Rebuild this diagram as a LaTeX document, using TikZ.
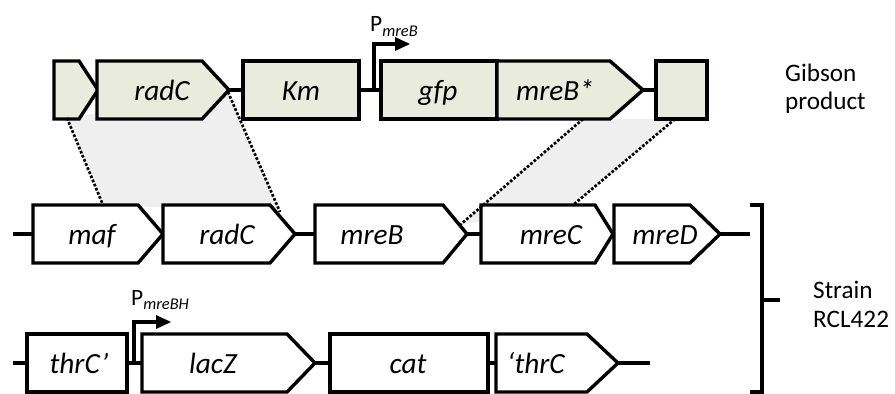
\documentclass[tikz,border=0pt]{standalone}
\usepackage{fontspec}
\setmainfont{Carlito}
\definecolor{gibsonfill}{RGB}{233,235,220}
\definecolor{overlap}{RGB}{239,239,239}
% name, fill, left x, body end x, tip x, mid y, label x, label
\newcommand{\gene}[8]{%
	\draw [gene, fill=#2] (#3,#6+29) -- (#4,#6+29) -- (#5,#6) -- (#4,#6-29) -- (#3,#6-29) -- cycle;
	\coordinate (#1-l) at (#3,#6);
	\coordinate (#1-r) at (#5,#6);
	\node [glabel] (#1) at (#7,#6-10) {#8};}
\begin{document}
\begin{tikzpicture}[x=0.03cm,y=0.03cm]
		\tikzstyle{every node}+=[inner sep=0pt]
		\tikzstyle{gene}=[black, line width=2.9pt, line join=miter]
		\tikzstyle{glabel}=[anchor=base, font=\fontsize{25}{30}\selectfont\itshape]
		\tikzstyle{side}=[anchor=base west, font=\fontsize{21.5}{26}\selectfont]
		\tikzstyle{prom}=[anchor=base west, font=\fontsize{20}{24}\selectfont]
		\tikzstyle{dna}=[black, line width=2.9pt]
		\tikzstyle{homol}=[black, line width=2.3pt, dash pattern=on 2.3pt off 1.5pt]
		\useasboundingbox (0,0) rectangle (895,-394);
		% regions of homology
		\coordinate (h1a) at (67,-118);
		\coordinate (h1b) at (228,-92);
		\coordinate (h1c) at (280,-212);
		\coordinate (h1d) at (103,-205);
		\coordinate (h2a) at (583,-119);
		\coordinate (h2b) at (675,-119);
		\coordinate (h2c) at (573,-205);
		\coordinate (h2d) at (460,-225);
		\fill [overlap] (h1a) -- (h1b) -- (h1c) -- (h1d) -- cycle;
		\fill [overlap] (h2a) -- (h2b) -- (h2c) -- (h2d) -- cycle;
		% Gibson product
		\gene{up}{gibsonfill}{54}{79}{98}{-90}{76}{}
		\gene{radCa}{gibsonfill}{97}{202}{229}{-90}{162}{radC}
		\gene{Km}{gibsonfill}{243}{359}{359}{-90}{301}{Km}
		\gene{gfp}{gibsonfill}{381}{497}{497}{-90}{438}{gfp}
		\gene{mreBs}{gibsonfill}{497}{610}{643}{-90}{555}{mreB*}
		\gene{down}{gibsonfill}{656}{707}{707}{-90}{681}{}
		\draw [dna] (radCa-r) -- (Km-l);
		\draw [dna] (Km-r) -- (gfp-l);
		\draw [dna] (mreBs-r) -- (down-l);
		\coordinate (pa) at (374,-90);
		\coordinate (pb) at (374,-44);
		\coordinate (pc) at (398,-44);
		\draw [dna] (pa) -- (pb) -- (pc);
		\fill [black] (410,-44) -- (395,-37) -- (395,-51);
		\node [prom] (PmreB) at (370,-32) {P\raisebox{-3.5pt}{\fontsize{14}{16}\selectfont\itshape mreB}};
		\node [side] (gibson) at (785,-81) {Gibson};
		\node [side] (product) at (785,-110) {product};
		% mre locus
		\gene{maf}{white}{33}{138}{163}{-234}{92}{maf}
		\gene{radCb}{white}{163}{270}{295}{-234}{227}{radC}
		\gene{mreB}{white}{315}{443}{467}{-234}{372}{mreB}
		\gene{mreC}{white}{481}{595}{613}{-234}{551}{mreC}
		\gene{mreD}{white}{614}{690}{720}{-234}{665}{mreD}
		\coordinate (s2) at (13,-234);
		\coordinate (e2) at (750,-234);
		\draw [dna] (s2) -- (maf-l);
		\draw [dna] (radCb-r) -- (mreB-l);
		\draw [dna] (mreB-r) -- (mreC-l);
		\draw [dna] (mreD-r) -- (e2);
		% thrC locus
		\gene{thrCa}{white}{27}{127}{127}{-363}{79}{thrC’}
		\gene{lacZ}{white}{142}{287}{315}{-363}{213}{lacZ}
		\gene{cat}{white}{330}{488}{488}{-363}{408}{cat}
		\gene{thrCb}{white}{496}{587}{618}{-363}{536}{‘thrC}
		\coordinate (s3) at (13,-363);
		\coordinate (e3) at (650,-363);
		\draw [dna] (s3) -- (thrCa-l);
		\draw [dna] (thrCa-r) -- (lacZ-l);
		\draw [dna] (lacZ-r) -- (cat-l);
		\draw [dna] (cat-r) -- (thrCb-l);
		\draw [dna] (thrCb-r) -- (e3);
		\coordinate (qa) at (134,-363);
		\coordinate (qb) at (134,-322);
		\coordinate (qc) at (157,-322);
		\draw [dna] (qa) -- (qb) -- (qc);
		\fill [black] (171,-322) -- (156,-315) -- (156,-329);
		\node [prom] (PmreBH) at (131,-305) {P\raisebox{-3.5pt}{\fontsize{14}{16}\selectfont\itshape mreBH}};
		% homology lines
		\draw [homol] (h1a) -- (h1d);
		\draw [homol] (h1b) -- (h1c);
		\draw [homol] (h2a) -- (h2d);
		\draw [homol] (h2b) -- (h2c);
		% strain bracket
		\coordinate (ba) at (750,-205);
		\coordinate (bb) at (762,-205);
		\coordinate (bc) at (762,-392);
		\coordinate (bd) at (750,-392);
		\coordinate (bm) at (762,-300);
		\coordinate (bn) at (780,-300);
		\draw [dna] (ba) -- (bb) -- (bc) -- (bd);
		\draw [dna] (bm) -- (bn);
		\node [side] (strain) at (813,-298) {Strain};
		\node [side] (rcl) at (813,-327) {RCL422};
		\end{tikzpicture}
\end{document}
